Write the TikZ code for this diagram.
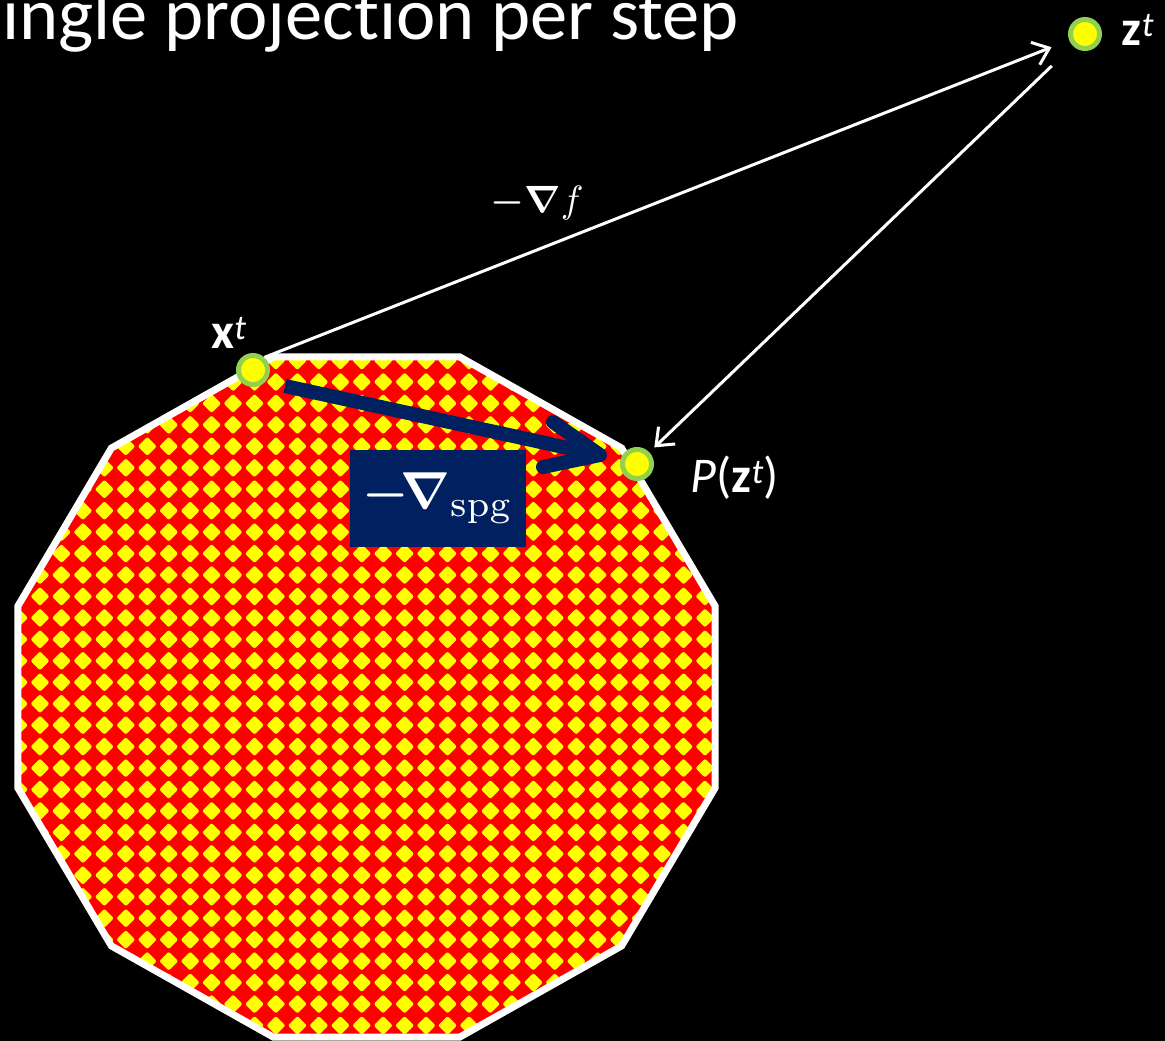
\documentclass[tikz,border=0pt]{standalone}
\usepackage{amsmath}
\usepackage{graphicx}
\usepackage[no-math]{fontspec}
\setmainfont{Carlito}[Ligatures=NoCommon]
\usetikzlibrary{arrows.meta,calc}
\definecolor{ringgreen}{RGB}{146,208,80}
\definecolor{navyblue}{RGB}{0,32,96}
\definecolor{polyred}{RGB}{255,0,0}
\definecolor{dotyellow}{RGB}{255,255,0}
\begin{document}
\begin{tikzpicture}[x=1pt,y=-1pt,
  dot/.style={circle, fill=dotyellow, draw=ringgreen, line width=5pt, minimum size=29pt, inner sep=0pt},
  wline/.style={white, line width=3pt},
  wtip/.style={-{Straight Barb[length=15pt,width=24pt]}},
  spgline/.style={navyblue, line width=14pt},
  lbl/.style={text=white, font=\fontsize{50}{56}\selectfont, inner sep=0pt},
]
\fill[black] (0,0) rectangle (1165,1041);
\useasboundingbox (0,0) rectangle (1165,1041);

% title
\node[text=white, font=\fontsize{74.5}{80}\selectfont, anchor=base west, inner sep=0pt] (title) at (2,40) {ingle projection per step};

% dodecagon vertices
\foreach \k in {0,...,11}
  \coordinate (v\k) at ({366.5+360.8*cos(15+30*\k)}, {697-352*sin(15+30*\k)});

\fill[polyred] (v0) -- (v1) -- (v2) -- (v3) -- (v4) -- (v5) -- (v6) -- (v7) -- (v8) -- (v9) -- (v10) -- (v11) -- cycle;
\begin{scope}
  \clip (v0) -- (v1) -- (v2) -- (v3) -- (v4) -- (v5) -- (v6) -- (v7) -- (v8) -- (v9) -- (v10) -- (v11) -- cycle;
  \fill[dotyellow, rounded corners=2pt] \foreach \i in {0,...,34} {\foreach \j in {0,...,33} {
     ({40+21.45*(\i-2)-9.5}, {575+21.45*(\j-11)}) -- ++(9.5,-9.5) -- ++(9.5,9.5) -- ++(-9.5,9.5) -- cycle}};
\end{scope}
\draw[white, line width=7pt, line join=miter] (v0) -- (v1) -- (v2) -- (v3) -- (v4) -- (v5) -- (v6) -- (v7) -- (v8) -- (v9) -- (v10) -- (v11) -- cycle;

% points
\node[dot] (xt) at (253,370) {};
\node[dot] (zt) at (1085,34) {};
\node[dot] (pz) at (637,464) {};

% white arrows
\draw[wline, wtip, shorten >=19pt] (xt.48) -- (zt);
\draw[wline, wtip, shorten <=29pt, shorten >=7pt] (zt) -- (pz);

% navy spg arrow
\coordinate (spgS) at (285,386);
\coordinate (spgT) at (600,455);
\draw[spgline] (spgS) -- (spgT);
\draw[spgline, line cap=round, line join=round] ($(spgT)+(-47,-33)$) -- (spgT) -- ($(spgT)+(-57,12)$);

% spg box
\node[fill=navyblue, text=white, minimum width=176pt, minimum height=97pt, inner sep=0pt] (spgbox) at (438,498.5) {\scalebox{5.2}{$\boldsymbol{-}\mkern-3mu\boldsymbol{\nabla}_{\mathrm{spg}}$}};

% labels
\node[lbl] (xtl) at (229,333) {\textbf{x}\textsuperscript{\textit{t}}};
\node[lbl] (ztl) at (1138,30) {\textbf{z}\textsuperscript{\textit{t}}};
\node[lbl] (pzl) at (735,478) {\textit{P}(\textbf{z}\textsuperscript{\textit{t}})};
\node[text=white, inner sep=0pt] (gradf) at (537,203) {\scalebox{3.8}{$\boldsymbol{-\nabla} f$}};
\end{tikzpicture}
\end{document}
